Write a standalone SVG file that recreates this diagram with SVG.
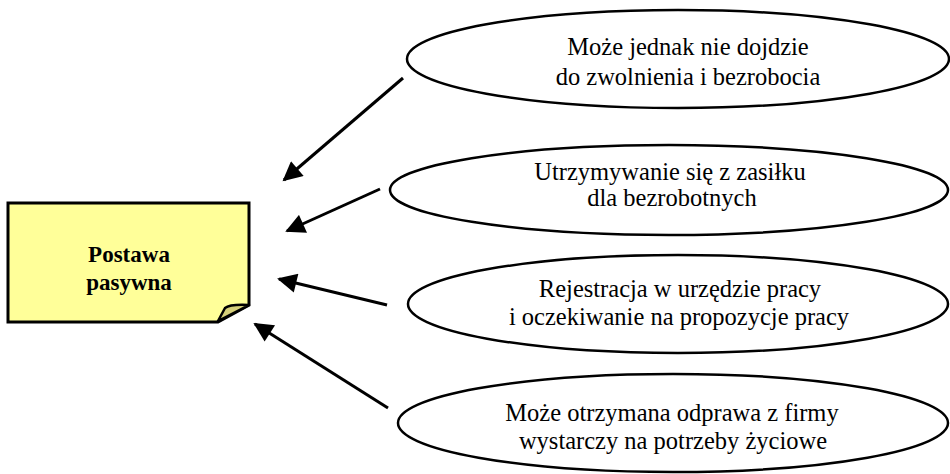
<svg xmlns="http://www.w3.org/2000/svg" width="950" height="474" viewBox="0 0 950 474">
<defs>
<style>
.ell{fill:#fff;stroke:#000;stroke-width:2.5}
.t{font-family:'Liberation Serif','DejaVu Serif',serif;font-size:24.5px;fill:#000;text-anchor:middle}
.tb{font-family:'Liberation Serif','DejaVu Serif',serif;font-size:23px;font-weight:bold;fill:#000;text-anchor:middle}
.c{stroke:#000;stroke-width:3;fill:none;marker-end:url(#ah)}
</style>
<marker id="ah" viewBox="0 0 10 10" refX="9" refY="5" markerWidth="7.5" markerHeight="6.5" orient="auto" markerUnits="strokeWidth">
<path d="M0,0 L10,5 L0,10 Z" fill="#000"/>
</marker>
</defs>
<rect width="950" height="474" fill="#fff"/>
<g id="postawa">
<path d="M8,203 H249 V305 L218,322 H8 Z" fill="#ffff99" stroke="#000" stroke-width="3" stroke-linejoin="miter"/>
<path d="M218,321 L225,308 Q230,304 249,305 Z" fill="#d6d07a" stroke="#000" stroke-width="2.5" stroke-linejoin="round"/>
<text class="tb" x="129" y="262">Postawa</text>
<text class="tb" x="129" y="290">pasywna</text>
</g>
<g id="n1">
<ellipse class="ell" cx="678" cy="59" rx="271" ry="49"/>
<text class="t" x="688" y="55">Może jednak nie dojdzie</text>
<text class="t" x="688" y="85">do zwolnienia i bezrobocia</text>
</g>
<g id="n2">
<ellipse class="ell" cx="669" cy="190" rx="279" ry="45"/>
<text class="t" x="670" y="180">Utrzymywanie się z zasiłku</text>
<text class="t" x="672" y="206">dla bezrobotnych</text>
</g>
<g id="n3">
<ellipse class="ell" cx="678" cy="304" rx="270" ry="49"/>
<text class="t" x="680" y="297">Rejestracja w urzędzie pracy</text>
<text class="t" x="679" y="325">i oczekiwanie na propozycje pracy</text>
</g>
<g id="n4">
<ellipse class="ell" cx="673" cy="423" rx="275" ry="49"/>
<text class="t" x="672" y="421">Może otrzymana odprawa z firmy</text>
<text class="t" x="673" y="449">wystarczy na potrzeby życiowe</text>
</g>
<g id="connectors">
<line class="c" x1="403" y1="78" x2="284" y2="180"/>
<line class="c" x1="380" y1="189" x2="287" y2="231"/>
<line class="c" x1="387" y1="305" x2="279" y2="279"/>
<line class="c" x1="388" y1="408" x2="255" y2="324"/>
</g>
</svg>
